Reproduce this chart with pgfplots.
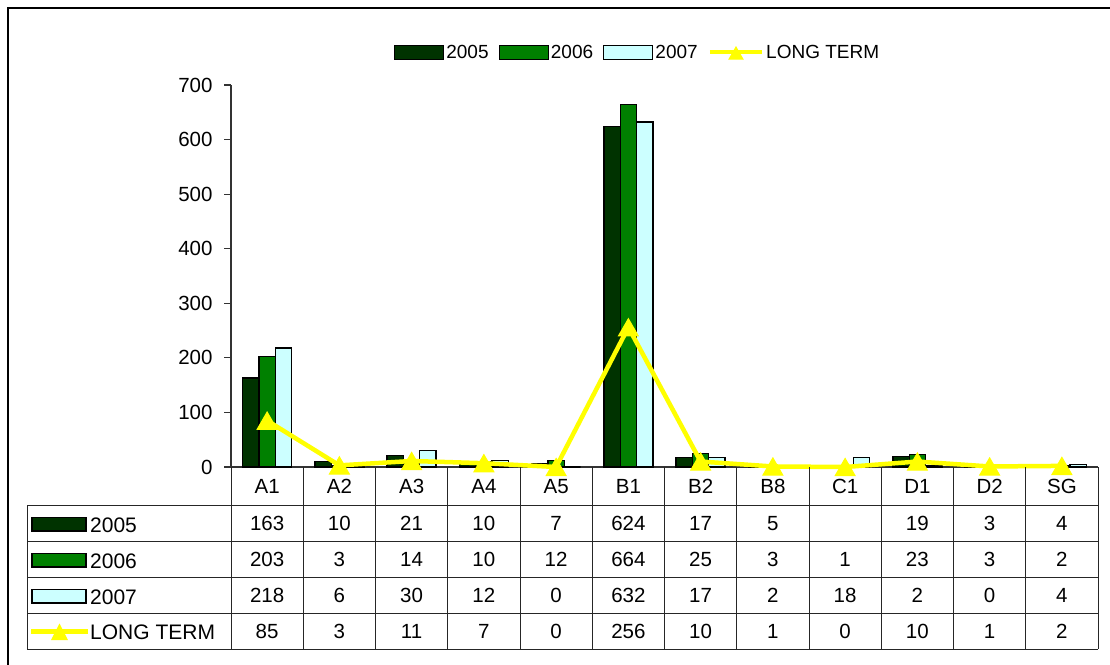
\documentclass[border=0pt]{standalone}
\usepackage{fontspec}
\setmainfont{Liberation Sans}
\usepackage{pgfplots}
\usepackage{pgfplotstable}
\pgfplotsset{compat=1.18}

\definecolor{cA}{HTML}{003300}
\definecolor{cB}{HTML}{008000}
\definecolor{cC}{HTML}{CCFFFF}
\definecolor{cL}{HTML}{FFFF00}

% counts per category; nan = no value recorded
\pgfplotstableread{
idx cat y2005 y2006 y2007 lt
0  A1 163 203 218 85
1  A2 10  3   6   3
2  A3 21  14  30  11
3  A4 10  10  12  7
4  A5 7   12  0   0
5  B1 624 664 632 256
6  B2 17  25  17  10
7  B8 5   3   2   1
8  C1 nan 1   18  0
9  D1 19  23  2   10
10 D2 3   3   0   1
11 SG 4   2   4   2
}\datatable

\newcommand{\legfont}{\fontsize{19}{22}\selectfont}
\newcommand{\tabfont}{\fontsize{20.5}{24}\selectfont}
\newcommand{\rowfont}{\fontsize{21}{24}\selectfont}
\def\nanstr{nan}

\pgfplotsset{
  barkey/.style={legend image code/.code={\draw[##1,line width=1.3pt] (0pt,-7pt) rectangle (49pt,7pt);}},
  linekey/.style={legend image code/.code={\draw[##1,mark size=8pt,mark repeat=2,mark phase=2] plot coordinates {(0pt,0pt) (26pt,0pt) (52pt,0pt)};}},
}

\begin{document}
\begin{tikzpicture}[font=\legfont]
\useasboundingbox (0pt,0pt) rectangle (1110pt,-664pt);
\draw[line width=1.5pt] (8pt,-680pt) -- (8pt,-8pt) -- (1130pt,-8pt);

\begin{axis}[
  at={(231pt,-467pt)}, anchor=south west,
  scale only axis, width=867pt, height=382pt,
  xmin=-0.5, xmax=11.5, ymin=0, ymax=700,
  ytick={0,100,...,700}, xtick=\empty,
  axis lines=left,
  x axis line style={-}, y axis line style={-},
  axis line style={draw=gray!40!black, line width=1.5pt},
  tick align=outside, major tick length=7pt,
  ytick style={draw=gray!40!black, line width=1.2pt},
  yticklabel style={font=\tabfont, xshift=-8pt},
  /pgf/number format/assume math mode=true,
  ybar, bar width=0.226,
  clip=false,
  legend columns=4,
  legend style={draw=none, fill=none, font=\legfont, at={(0.469,1.086)}, anchor=center,
    /tikz/every even column/.append style={column sep=8pt}},
]
\addplot[barkey, fill=cA, draw=black, line width=1.3pt, bar shift=-0.226] table[x=idx,y=y2005]{\datatable};
\addlegendentry{2005}
\addplot[barkey, fill=cB, draw=black, line width=1.3pt, bar shift=0] table[x=idx,y=y2006]{\datatable};
\addlegendentry{2006}
\addplot[barkey, fill=cC, draw=black, line width=1.3pt, bar shift=0.226] table[x=idx,y=y2007]{\datatable};
\addlegendentry{2007}
\addplot[linekey, sharp plot, draw=cL, line width=4.5pt, mark=triangle*, mark size=11.5pt,
  mark options={solid, fill=cL, draw=cL, line width=1pt, yshift=-2.9pt}]
  table[x=idx,y=lt]{\datatable};
\addlegendentry{LONG TERM}
\end{axis}

% data table under the plot
\begin{scope}[x=1pt, y=-1pt, font=\tabfont]
  \draw[black!85, line width=1pt]
    (27,505.7) -- (1098,505.7)
    (27,541.7) -- (1098,541.7)
    (27,577.7) -- (1098,577.7)
    (27,613.3) -- (1098,613.3)
    (27,649.3) -- (1098,649.3)
    (27,505.7) -- (27,649.3);
  \foreach \k in {0,...,12}
    \draw[black!85, line width=1pt] ({231+\k*72.25},467) -- ({231+\k*72.25},649.3);
  \foreach \r in {0,...,11} {
    \pgfplotstablegetelem{\r}{cat}\of\datatable
    \node[inner sep=0pt] at ({231+(\r+0.5)*72.25},486.5) {\pgfplotsretval};
    \foreach \c/\yy in {y2005/523.7, y2006/559.7, y2007/595.5, lt/631.3} {
      \pgfplotstablegetelem{\r}{\c}\of\datatable
      \node[inner sep=0pt] at ({231+(\r+0.5)*72.25},\yy)
        {\ifx\pgfplotsretval\nanstr\else\pgfplotsretval\fi};
    }
  }
  % row keys
  \draw[fill=cA, line width=1.3pt] (32,517.5) rectangle (86,531);
  \draw[fill=cB, line width=1.3pt] (32,553.5) rectangle (86,567);
  \draw[fill=cC, line width=1.3pt] (32,589.5) rectangle (86,603);
  \draw[cL, line width=4.5pt] (31,631.5) -- (88,631.5);
  \fill[cL] (51,640) -- (59.5,623.5) -- (68,640) -- cycle;
  \node[inner sep=0pt, anchor=west, font=\rowfont] at (90,525) {2005};
  \node[inner sep=0pt, anchor=west, font=\rowfont] at (90,561) {2006};
  \node[inner sep=0pt, anchor=west, font=\rowfont] at (90,597) {2007};
  \node[inner sep=0pt, anchor=west, font=\rowfont] at (90,632.5) {LONG TERM};
\end{scope}
\end{tikzpicture}
\end{document}
